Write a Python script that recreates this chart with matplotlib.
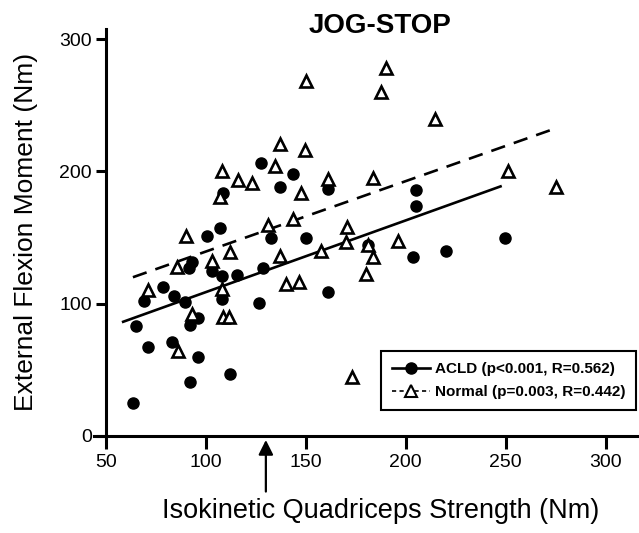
#! /usr/bin/env python3

'''
Jog-stop scatter: external flexion moment versus isokinetic quadriceps
strength for ACLD and normal subjects, with regression lines.
'''

import matplotlib
matplotlib.use('Agg')
import matplotlib.pyplot as plt

plt.rcParams['font.family'] = ['Liberation Sans', 'DejaVu Sans']

# ACLD subjects (filled circles)
acld_x = [63.5, 65, 69, 71, 78.5, 83, 84, 89.5, 92, 92, 96, 96, 93, 91.5,
          100.5, 107, 108.5, 103, 108, 115.5, 108, 112, 126.5, 128.5, 127.5,
          132.5, 137, 143.5, 150, 161, 161, 181, 203.5, 205, 205, 220, 249.5]
acld_y = [25, 83, 102, 67, 112.6, 71, 106, 101, 41, 84, 89, 60, 131.5, 127,
          151, 157, 184, 125, 121, 122, 103.5, 47, 100.5, 127, 206,
          150, 188.5, 198, 150, 187, 109, 144, 135.5, 186, 173.5, 140, 149.6]

# Normal subjects (open triangles)
normal_x = [71, 86, 85.5, 90, 93, 103, 107, 108, 108, 108.5, 111.5, 112, 116,
            123, 131, 134.5, 137, 137, 140, 143.5, 146.5, 147.5, 149.5, 150,
            157.5, 161, 170.5, 170, 173, 180, 181, 183.5, 183.5, 187.5, 190,
            196, 214.5, 251, 275]
normal_y = [110, 64, 128, 151, 92, 132, 180.5, 200.5, 111, 90, 90, 139, 193.5,
            191, 159.5, 204, 220.7, 136, 115, 164, 116.6, 184, 216, 268,
            139.5, 194, 158, 147, 44.6, 122.5, 144, 135.5, 195, 260, 278,
            147.6, 239.6, 200.5, 188.5]

# regression line end points
acld_fit_x = [58, 248]
acld_fit_y = [86, 189]
normal_fit_x = [63.5, 272]
normal_fit_y = [120, 231]

x_ticks = [50, 100, 150, 200, 250, 300]
y_ticks = [0, 100, 200, 300]
arrow_x = 130

fig = plt.figure(figsize=(6.39, 5.33), dpi=100)
ax = fig.add_axes([0.147, 0.182, 0.851, 0.7645])

ax.plot(acld_fit_x, acld_fit_y, color='black', lw=1.9, solid_capstyle='butt')
ax.plot(normal_fit_x, normal_fit_y, color='black', lw=1.9,
        dashes=(5.5, 3.5))

ax.plot(acld_x, acld_y, 'o', color='black', ms=8, ls='none')
ax.plot(normal_x, normal_y, '^', mfc='white', mec='black', mew=1.9, ms=8,
        ls='none')

# legend handles carry both line and marker
h1, = ax.plot([], [], color='black', lw=1.9, marker='o', ms=8)
h2, = ax.plot([], [], color='black', lw=1.2, dashes=(2.5, 2), marker='^',
              mfc='white', mec='black', mew=1.5, ms=8)
leg = ax.legend([h1, h2],
                ['ACLD (p<0.001, R=0.562)', 'Normal (p=0.003, R=0.442)'],
                loc='lower right', bbox_to_anchor=(0.997, 0.064),
                prop={'weight': 'bold', 'size': 11}, handlelength=2.5,
                handletextpad=0.3, borderpad=0.7, labelspacing=0.6,
                fancybox=False, framealpha=1, borderaxespad=0)
leg.get_frame().set_edgecolor('black')
leg.get_frame().set_linewidth(1.5)

ax.set_xlim(44, 316)
ax.set_ylim(0, 308)
for spine in 'right', 'top':
    ax.spines[spine].set_color('none')
ax.spines['left'].set_position(('data', 50))
ax.spines['bottom'].set_position(('data', 0))
for spine in 'left', 'bottom':
    ax.spines[spine].set_linewidth(2.2)

ax.set_xticks(x_ticks)
ax.set_yticks(y_ticks)
ax.tick_params(axis='x', direction='out', length=9, width=2.2,
               labelsize=14, pad=4)
ax.tick_params(axis='y', direction='out', length=7, width=2.2,
               labelsize=14, pad=3)

ax.set_xlabel('Isokinetic Quadriceps Strength (Nm)', fontsize=19.5)
ax.xaxis.set_label_coords(0.527, -0.152)
ax.set_ylabel('External Flexion Moment (Nm)', fontsize=19)
ax.yaxis.set_label_coords(-0.102, 0.5)

ax.text(0.527, 1.006, 'JOG-STOP', transform=ax.transAxes, ha='center',
        va='center', fontsize=20, fontweight='bold', clip_on=False)

ax.annotate('', xy=(arrow_x, -3), xytext=(arrow_x, -42),
            annotation_clip=False,
            arrowprops=dict(arrowstyle='-|>', color='black', lw=1.6,
                            mutation_scale=22, shrinkA=0, shrinkB=0))

fig.savefig('out.png', dpi=100)
